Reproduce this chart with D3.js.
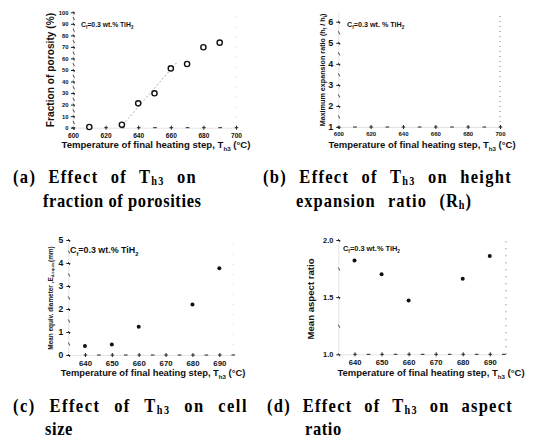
<!DOCTYPE html>
<html>
<head>
<meta charset="utf-8">
<script src="https://cdn.jsdelivr.net/npm/d3@7"></script>
<style>
  body { margin: 0; background: #fff; }
  svg { display: block; }
</style>
</head>
<body>
<svg id="fig" width="540" height="446"></svg>
<script>
// (a) fraction of porosity vs final heating temperature
const tempA = [610, 630, 640, 650, 660, 670, 680, 690];
const porosityA = [0.6, 2.6, 21.1, 29.8, 51.4, 55.2, 69.7, 73.7];
const fitTempA = [629, 664];
const fitPorosityA = [0, 57];
// (b) height expansion ratio: no points legible in the source
const tempB = [];
const ratioB = [];
// (c) mean equivalent cell diameter (mm)
const tempC = [640, 650, 660, 680, 690];
const cellSizeC = [0.39, 0.46, 1.23, 2.2, 3.77];
// (d) mean aspect ratio
const tempD = [640, 650, 660, 680, 690];
const aspectD = [1.82, 1.70, 1.47, 1.66, 1.86];

// tick labels
const xTicksAB = [600, 620, 640, 660, 680, 700];
const xTicksCD = [640, 650, 660, 670, 680, 690];
const yTicksA = [0, 10, 20, 30, 40, 50, 60, 70, 80, 90, 100];
const yTicksB = [1, 2, 3, 4, 5, 6];
const yTicksC = [0, 1, 2, 3, 4, 5];
const yTicksD = [1.0, 1.5, 2.0];

const SANS = "'Liberation Sans', Arial, sans-serif";
const SERIF = "'Liberation Serif', 'Times New Roman', serif";

const svg = d3.select('#fig');

// text with subscripts: parts = ['plain', ['sub'], 'plain']
function rich(sel, parts, fs, subShift, subScale) {
    let shift = 0;
    parts.forEach(p => {
        const isSub = Array.isArray(p);
        const target = isSub ? fs * subShift : 0;
        sel.append('tspan')
            .attr('dy', target - shift)
            .attr('font-size', isSub ? fs * (subScale || 0.65) : fs)
            .text(isSub ? p[0] : p);
        shift = target;
    });
    return sel;
}

function panel(o) {
    const g = svg.append('g');
    const x = d3.scaleLinear().domain(o.xDomain).range(o.xRange);
    const y = d3.scaleLinear().domain(o.yDomain).range(o.yRange);
    const [xl, xr] = o.xRange;
    const [yb, yt] = o.yRange;

    // faint right edge of the frame
    g.append('line')
        .attr('x1', xr).attr('x2', xr).attr('y1', yb).attr('y2', yt)
        .attr('stroke', o.rightColor).attr('stroke-width', 1)
        .attr('stroke-dasharray', o.rightDash);

    // bottom axis: minor dashes
    g.append('g')
        .attr('transform', `translate(0,${yb})`)
        .call(d3.axisBottom(x).tickValues(o.xMinor).tickSize(0).tickFormat(''))
        .call(a => {
            a.select('.domain').attr('stroke', '#e4e4e4');
            a.selectAll('.tick').append('line')
                .attr('x1', -1.8).attr('x2', 1.8).attr('stroke', '#222').attr('stroke-width', 1);
        });
    // bottom axis: labelled ticks
    g.append('g')
        .attr('transform', `translate(0,${yb})`)
        .attr('font-family', SANS).attr('font-weight', 'bold')
        .call(d3.axisBottom(x).tickValues(o.xTicks).tickSize(2).tickPadding(o.xPad).tickFormat(d3.format('d')))
        .call(a => {
            a.select('.domain').remove();
            a.selectAll('.tick line').attr('y1', -2).attr('stroke', '#222');
            a.selectAll('.tick text').attr('font-size', o.xFont).attr('fill', '#111');
        });

    // left axis: minor dashes
    g.append('g')
        .attr('transform', `translate(${xl},0)`)
        .call(d3.axisLeft(y).tickValues(o.yMinor).tickSize(0).tickFormat(''))
        .call(a => {
            a.select('.domain').attr('stroke', '#e4e4e4');
            a.selectAll('.tick').append('line')
                .attr('y1', -1.5).attr('y2', 1.5).attr('x2', 1.5).attr('stroke', '#333').attr('stroke-width', 0.9);
        });
    // left axis: labelled ticks
    g.append('g')
        .attr('transform', `translate(${xl},0)`)
        .attr('font-family', SANS).attr('font-weight', 'bold')
        .call(d3.axisLeft(y).tickValues(o.yTicks).tickSize(2).tickPadding(o.yPad).tickFormat(d3.format(o.yFmt)))
        .call(a => {
            a.select('.domain').remove();
            a.selectAll('.tick line').attr('x1', 2).attr('stroke', '#222');
            a.selectAll('.tick text').attr('font-size', o.yFont).attr('fill', '#111');
        });

    // x title
    rich(g.append('text')
        .attr('x', o.xTitle.x).attr('y', o.xTitle.y)
        .attr('text-anchor', 'middle').attr('font-family', SANS).attr('font-weight', 'bold')
        .attr('fill', '#111'),
        ['Temperature of final heating step, T', ['h3'], ' (\u00B0C)'], o.xTitle.fs, 0.3);

    // y title
    rich(g.append('text')
        .attr('transform', `translate(${o.yTitle.x},${o.yTitle.y}) rotate(-90)`)
        .attr('text-anchor', 'middle').attr('font-family', SANS).attr('font-weight', 'bold')
        .attr('fill', '#111'),
        o.yTitle.parts, o.yTitle.fs, 0.3);

    // composition note
    rich(g.append('text')
        .attr('x', o.note.x).attr('y', o.note.y)
        .attr('font-family', SANS).attr('font-weight', 'bold').attr('fill', '#111'),
        ['C', ['f'], '=0.3 wt.', o.note.gap ? ' % TiH' : '% TiH', ['2']], o.note.fs, 0.3);

    return { g, x, y };
}

// ---------- (a)
const pa = panel({
    xDomain: [600, 700], xRange: [73, 236],
    yDomain: [0, 100], yRange: [127.7, 12.3],
    xTicks: xTicksAB, xMinor: d3.range(600, 701, 10), xPad: 3.5, xFont: 6.6,
    yTicks: yTicksA, yMinor: d3.range(0, 101, 5), yPad: 2.5, yFont: 5.8, yFmt: 'd',
    rightColor: '#d0d0d0', rightDash: '1,9',
    xTitle: { x: 156, y: 148, fs: 9.6 },
    yTitle: { x: 54, y: 70, fs: 10.2, parts: ['Fraction of porosity (%)'] },
    note: { x: 81, y: 27, fs: 6.8 }
});
pa.g.append('path')
    .datum(d3.zip(fitTempA, fitPorosityA))
    .attr('d', d3.line().x(d => pa.x(d[0])).y(d => pa.y(d[1])))
    .attr('fill', 'none').attr('stroke', '#888').attr('stroke-width', 0.9)
    .attr('stroke-dasharray', '1.5,2.5');
pa.g.selectAll('circle.pt')
    .data(d3.zip(tempA, porosityA))
    .join('circle').attr('class', 'pt')
    .attr('cx', d => pa.x(d[0])).attr('cy', d => pa.y(d[1]))
    .attr('r', 2.6).attr('fill', '#fff').attr('stroke', '#111').attr('stroke-width', 1.4);

// ---------- (b)
const pb = panel({
    xDomain: [600, 700], xRange: [338.3, 500],
    yDomain: [1, 6.45], yRange: [127, 12.3],
    xTicks: xTicksAB, xMinor: d3.range(600, 701, 10), xPad: 3, xFont: 6,
    yTicks: yTicksB, yMinor: d3.range(1, 6.5, 0.5), yPad: 3, yFont: 9, yFmt: 'd',
    rightColor: '#777', rightDash: '1,4',
    xTitle: { x: 422, y: 148, fs: 9.5 },
    yTitle: { x: 324.5, y: 70, fs: 7.2, parts: ['Maximum expansion ratio (h', ['f'], ' / h', ['i'], ')'] },
    note: { x: 347, y: 27, fs: 7.2, gap: true }
});
pb.g.selectAll('circle.pt')
    .data(d3.zip(tempB, ratioB))
    .join('circle').attr('class', 'pt')
    .attr('cx', d => pb.x(d[0])).attr('cy', d => pb.y(d[1]))
    .attr('r', 2.2).attr('fill', '#111');

// ---------- (c)
const pc = panel({
    xDomain: [633.8, 695.2], xRange: [68.3, 233.3],
    yDomain: [0, 5], yRange: [355, 240],
    xTicks: xTicksCD, xMinor: d3.range(640, 696, 5), xPad: 3.5, xFont: 7.8,
    yTicks: yTicksC, yMinor: d3.range(0, 5.01, 0.5), yPad: 3, yFont: 8.6, yFmt: 'd',
    rightColor: '#d8d8d8', rightDash: '1,9',
    xTitle: { x: 153, y: 376, fs: 9.4 },
    yTitle: { x: 52.5, y: 298, fs: 6.4, parts: ['Mean equiv. diameter ,E', ['d,equiv.'], '(mm)'] },
    note: { x: 70, y: 253, fs: 8.9 }
});
pc.g.selectAll('circle.pt')
    .data(d3.zip(tempC, cellSizeC))
    .join('circle').attr('class', 'pt')
    .attr('cx', d => pc.x(d[0])).attr('cy', d => pc.y(d[1]))
    .attr('r', 2).attr('fill', '#111');

// ---------- (d)
const pd = panel({
    xDomain: [634, 696], xRange: [338.3, 506],
    yDomain: [1, 2], yRange: [354.3, 240],
    xTicks: xTicksCD, xMinor: d3.range(640, 696, 5), xPad: 3.5, xFont: 7.6,
    yTicks: yTicksD, yMinor: d3.range(1, 2.01, 0.25), yPad: 3, yFont: 7.4, yFmt: '.1f',
    rightColor: '#666', rightDash: '1,6',
    xTitle: { x: 431, y: 376, fs: 9.5 },
    yTitle: { x: 313.5, y: 299, fs: 9.6, parts: ['Mean aspect ratio'] },
    note: { x: 343, y: 251, fs: 7.4 }
});
pd.g.selectAll('circle.pt')
    .data(d3.zip(tempD, aspectD))
    .join('circle').attr('class', 'pt')
    .attr('cx', d => pd.x(d[0])).attr('cy', d => pd.y(d[1]))
    .attr('r', 2).attr('fill', '#111');

// ---------- captions (justified lines)
const captions = [
    { parts: ['(a) Effect of T', ['h3'], ' on'], x: 13, right: 197, y: 183 },
    { parts: ['fraction of porosities'], x: 43, y: 207 },
    { parts: ['(b) Effect of T', ['h3'], ' on height'], x: 263, right: 512, y: 183 },
    { parts: ['expansion ratio (R', ['h'], ')'], x: 296, right: 472, y: 207 },
    { parts: ['(c) Effect of T', ['h3'], ' on cell'], x: 13, right: 248, y: 412 },
    { parts: ['size'], x: 45, y: 435 },
    { parts: ['(d) Effect of T', ['h3'], ' on aspect'], x: 267, right: 513, y: 412 },
    { parts: ['ratio'], x: 305, y: 435 }
];
captions.forEach(c => {
    const t = svg.append('text')
        .attr('transform', `translate(${c.x},${c.y}) scale(1,1.14)`)
        .attr('font-family', SERIF).attr('font-weight', 'bold').attr('fill', '#000')
        .attr('letter-spacing', 0.6);
    rich(t, c.parts, 16.5, 0.08, 0.62);
    if (c.right) {
        const txt = c.parts.map(p => Array.isArray(p) ? p[0] : p).join('');
        const extra = c.right - c.x - t.node().getComputedTextLength();
        const spaces = txt.split(' ').length - 1;
        // share the slack between letters and word gaps
        const ls = 0.6 + (extra * 0.35) / txt.length;
        t.attr('letter-spacing', ls);
        const rest = c.right - c.x - t.node().getComputedTextLength();
        if (spaces > 0) t.attr('word-spacing', rest / spaces);
    }
});
</script>
</body>
</html>
